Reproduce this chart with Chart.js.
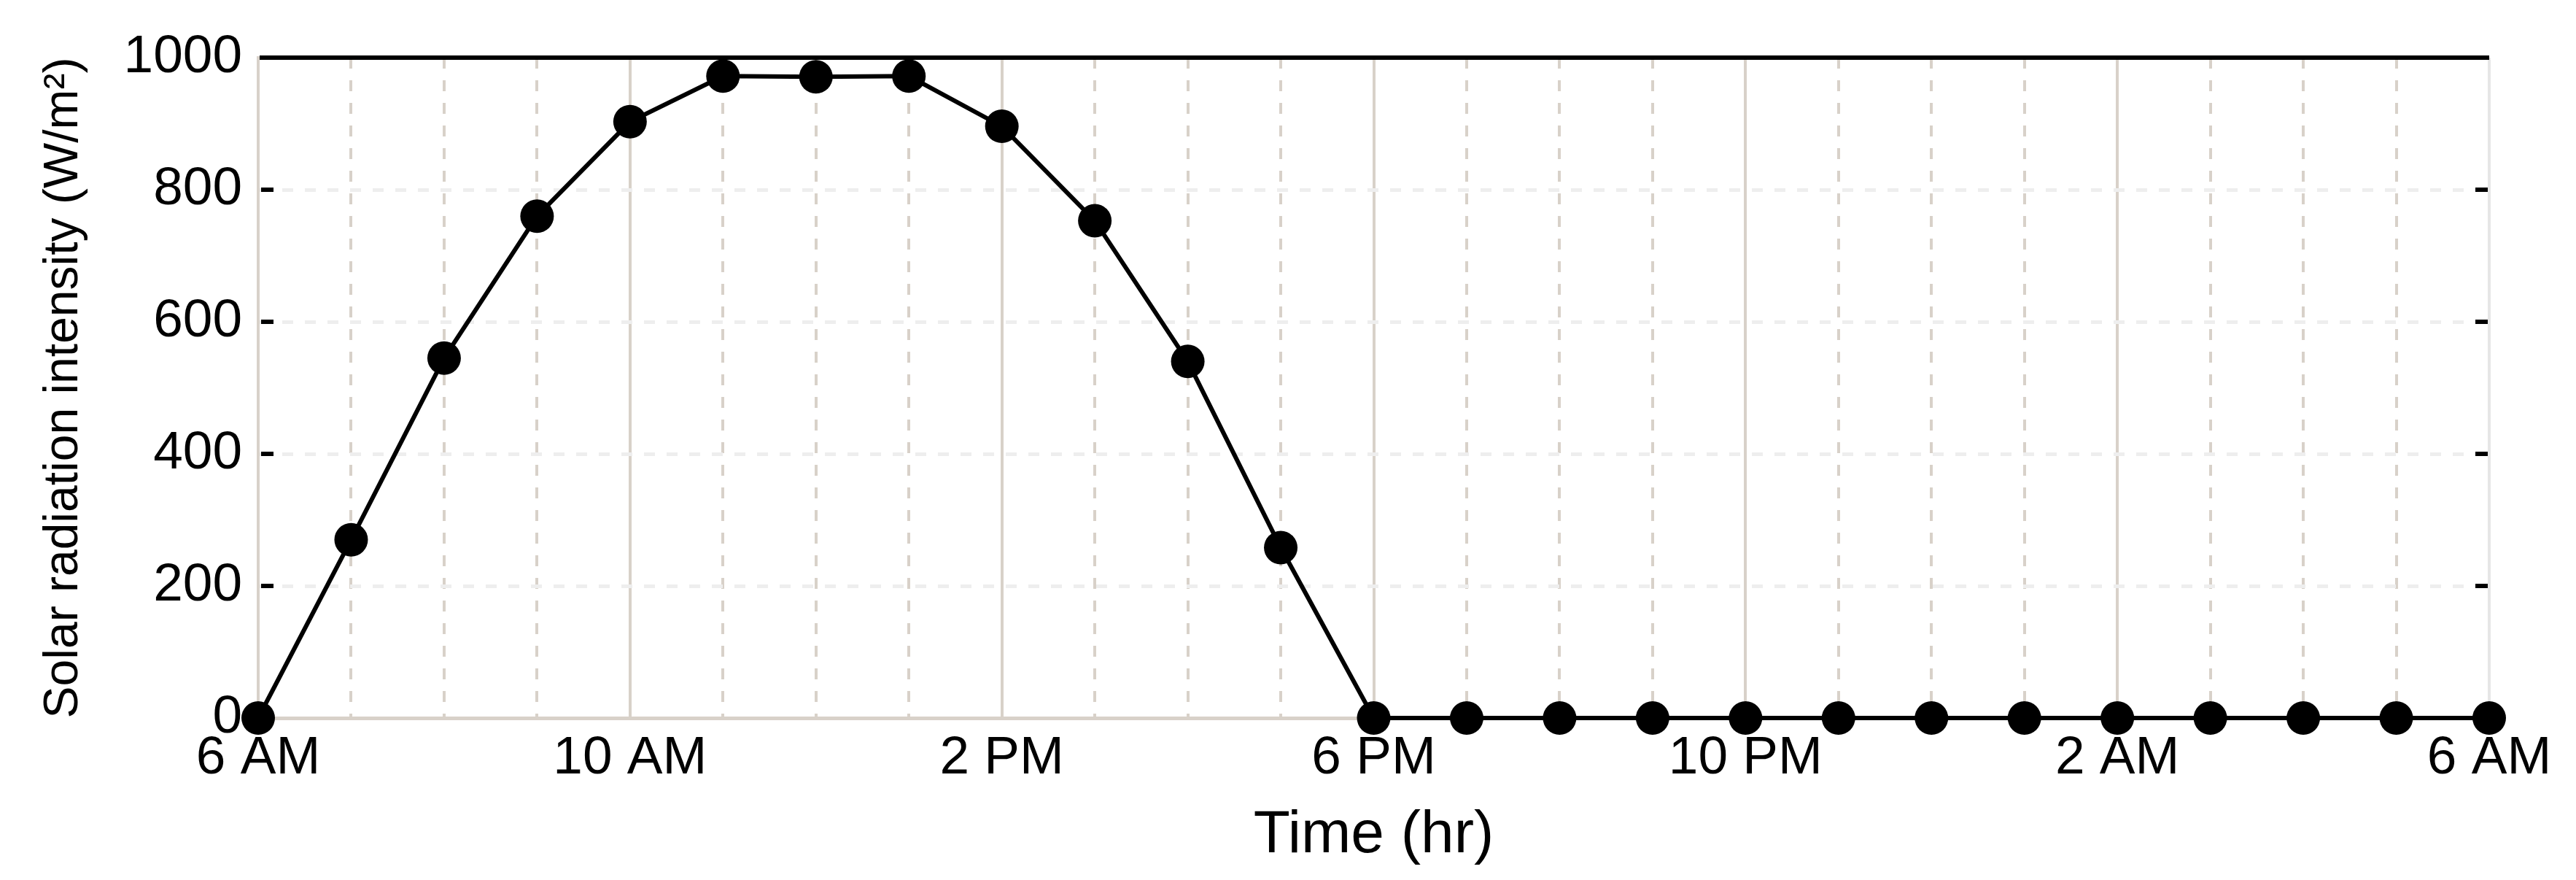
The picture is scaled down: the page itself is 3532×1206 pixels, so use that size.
<!DOCTYPE html>
<html>
<head>
<meta charset="utf-8">
<script src="https://cdn.jsdelivr.net/npm/chart.js@4.4.0/dist/chart.umd.min.js"></script>
<style>
    html, body { margin: 0; padding: 0; background: #ffffff; }
    #wrap { width: 3532px; height: 1206px; }
</style>
</head>
<body>
<div id="wrap"><canvas id="radiation-chart" width="3532" height="1206"></canvas></div>
<script>
// hours after 6 AM, one point per hour over a full day
const hours = [0, 1, 2, 3, 4, 5, 6, 7, 8, 9, 10, 11, 12, 13, 14, 15, 16, 17, 18, 19, 20, 21, 22, 23, 24];
const radiation = [0, 270, 545, 760, 903, 972, 971, 972, 896, 753, 540, 258, 0, 0, 0, 0, 0, 0, 0, 0, 0, 0, 0, 0, 0];
const xTickLabels = ['6 AM', '10 AM', '2 PM', '6 PM', '10 PM', '2 AM', '6 AM'];
const yTickLabels = [0, 200, 400, 600, 800, 1000];

const FONT = "'Liberation Sans', Arial, sans-serif";
const BEIGE = '#d8d1c9';
const LIGHT = '#eeeeee';

// short black tick marks drawn inside the plot, left and right
const innerTicks = {
    id: 'innerTicks',
    beforeDatasetsDraw(chart) {
        const { ctx, chartArea, scales } = chart;
        ctx.save();
        ctx.fillStyle = '#000000';
        for (const v of yTickLabels) {
            if (v === 0 || v === 1000) continue;
            const y = Math.round(scales.y.getPixelForValue(v));
            ctx.fillRect(chartArea.left + 4, y - 3, 17, 6);
            ctx.fillRect(chartArea.right - 19, y - 3, 17, 6);
        }
        ctx.restore();
    }
};

const ctx = document.getElementById('radiation-chart').getContext('2d');
new Chart(ctx, {
    type: 'line',
    data: {
        datasets: [{
            data: hours.map((h, i) => ({ x: h, y: radiation[i] })),
            borderColor: '#000000',
            backgroundColor: '#000000',
            borderWidth: 6,
            tension: 0,
            pointRadius: 23,
            pointBorderWidth: 0,
            pointBackgroundColor: '#000000',
            clip: false
        }]
    },
    options: {
        responsive: false,
        animation: false,
        devicePixelRatio: 1,
        layout: { padding: { top: 79, right: 119, left: 0, bottom: 0 } },
        plugins: {
            legend: { display: false },
            tooltip: { enabled: false }
        },
        scales: {
            x: {
                type: 'linear',
                min: 0,
                max: 24,
                afterFit: s => { s.height = 222; },
                ticks: {
                    stepSize: 1,
                    autoSkip: false,
                    maxRotation: 0,
                    padding: 12,
                    color: '#000000',
                    font: { family: FONT, size: 73 },
                    callback: v => (v % 4 === 0 ? xTickLabels[v / 4] : '')
                },
                grid: {
                    drawTicks: false,
                    color: c => {
                        const v = c.tick ? c.tick.value : -1;
                        if (v === 24) return '#e6e6e6';
                        return BEIGE;
                    },
                    lineWidth: 4
                },
                border: {
                    color: BEIGE,
                    width: 5,
                    dash: c => (c.tick && c.tick.value % 4 !== 0 ? [15, 16] : [])
                },
                title: {
                    display: true,
                    text: 'Time (hr)',
                    color: '#000000',
                    font: { family: FONT, size: 82 },
                    padding: { top: 0, bottom: 11 }
                }
            },
            y: {
                min: 0,
                max: 1000,
                afterFit: s => { s.width = 354; },
                ticks: {
                    stepSize: 100,
                    padding: 22,
                    color: '#000000',
                    font: { family: FONT, size: 73 },
                    callback: v => (yTickLabels.includes(v) ? String(v) : '')
                },
                grid: {
                    drawTicks: false,
                    color: c => {
                        const v = c.tick ? c.tick.value : -1;
                        if (v === 1000) return '#000000';
                        if (v === 0) return BEIGE;
                        return LIGHT;
                    },
                    lineWidth: c => (c.tick && c.tick.value === 1000 ? 6 : 5)
                },
                border: {
                    color: BEIGE,
                    width: 4,
                    dash: c => (c.tick && c.tick.value !== 0 && c.tick.value !== 1000 ? [15, 16] : [])
                },
                title: {
                    display: true,
                    text: 'Solar radiation intensity (W/m²)',
                    color: '#000000',
                    font: { family: FONT, size: 66 },
                    padding: { top: 48, bottom: 0 }
                }
            }
        }
    },
    plugins: [innerTicks]
});
</script>
</body>
</html>
